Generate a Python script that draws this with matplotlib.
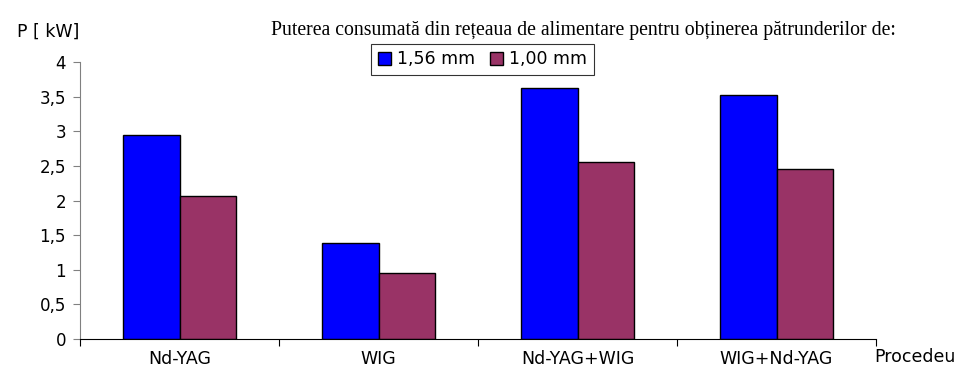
import matplotlib
matplotlib.use("Agg")
import matplotlib.pyplot as plt
import numpy as np

categories = ["Nd-YAG", "WIG", "Nd-YAG+WIG", "WIG+Nd-YAG"]
series_names = ["1,56 mm", "1,00 mm"]
vals_156 = [2.95, 1.38, 3.62, 3.53]
vals_100 = [2.06, 0.96, 2.55, 2.45]
yticks = [0, 0.5, 1, 1.5, 2, 2.5, 3, 3.5, 4]
ytick_labels = ["0", "0,5", "1", "1,5", "2", "2,5", "3", "3,5", "4"]

colors = ["#0000FF", "#993366"]

fig = plt.figure(figsize=(9.62, 3.74), dpi=100)
W, H = 962, 374
left, right, bottom, top = 80, 876, 339, 62
ax = fig.add_axes([left / W, 1 - bottom / H, (right - left) / W, (bottom - top) / H])

x = np.arange(len(categories))
bw = 0.286
ax.bar(x - bw / 2, vals_156, bw, color=colors[0], edgecolor="black", linewidth=1.0, label=series_names[0])
ax.bar(x + bw / 2, vals_100, bw, color=colors[1], edgecolor="black", linewidth=1.0, label=series_names[1])

ax.set_xlim(-0.5, len(categories) - 0.5)
ax.set_ylim(0, 4)
ax.set_yticks(yticks)
ax.set_yticklabels(ytick_labels, fontsize=12, family="DejaVu Sans")
ax.set_xticks(np.arange(len(categories) + 1) - 0.5)
ax.set_xticklabels([])
ax.set_xticks(x, minor=True)
ax.set_xticklabels(categories, minor=True, fontsize=12.5, family="DejaVu Sans")
ax.tick_params(axis="x", which="minor", length=0, pad=8)
ax.tick_params(axis="x", which="major", length=5, direction="out", color="black")
ax.tick_params(axis="y", length=5, direction="out", color="#808080", pad=5)

for s in ["top", "right"]:
    ax.spines[s].set_visible(False)
ax.spines["left"].set_color("#808080")
ax.spines["bottom"].set_color("black")

fig.text(583 / W, 1 - 30 / H, "Puterea consumată din rețeaua de alimentare pentru obținerea pătrunderilor de:",
         ha="center", va="center", fontsize=14.2, family="Liberation Serif")
fig.text(48 / W, 1 - 32 / H, "P [ kW]", ha="center", va="center", fontsize=12.5, family="DejaVu Sans")
fig.text(915 / W, 1 - 357 / H, "Procedeu", ha="center", va="center", fontsize=12.5, family="DejaVu Sans")

leg = ax.legend(loc="center", bbox_to_anchor=(482.5 / W, 1 - 59.5 / H), bbox_transform=fig.transFigure,
                ncol=2, frameon=True, fancybox=False, edgecolor="black",
                handlelength=0.75, handleheight=0.75, handletextpad=0.35, columnspacing=0.9,
                borderpad=0.35, borderaxespad=0, prop={"family": "DejaVu Sans", "size": 12.5})
leg.get_frame().set_linewidth(0.8)

fig.savefig("out.png", dpi=100)
